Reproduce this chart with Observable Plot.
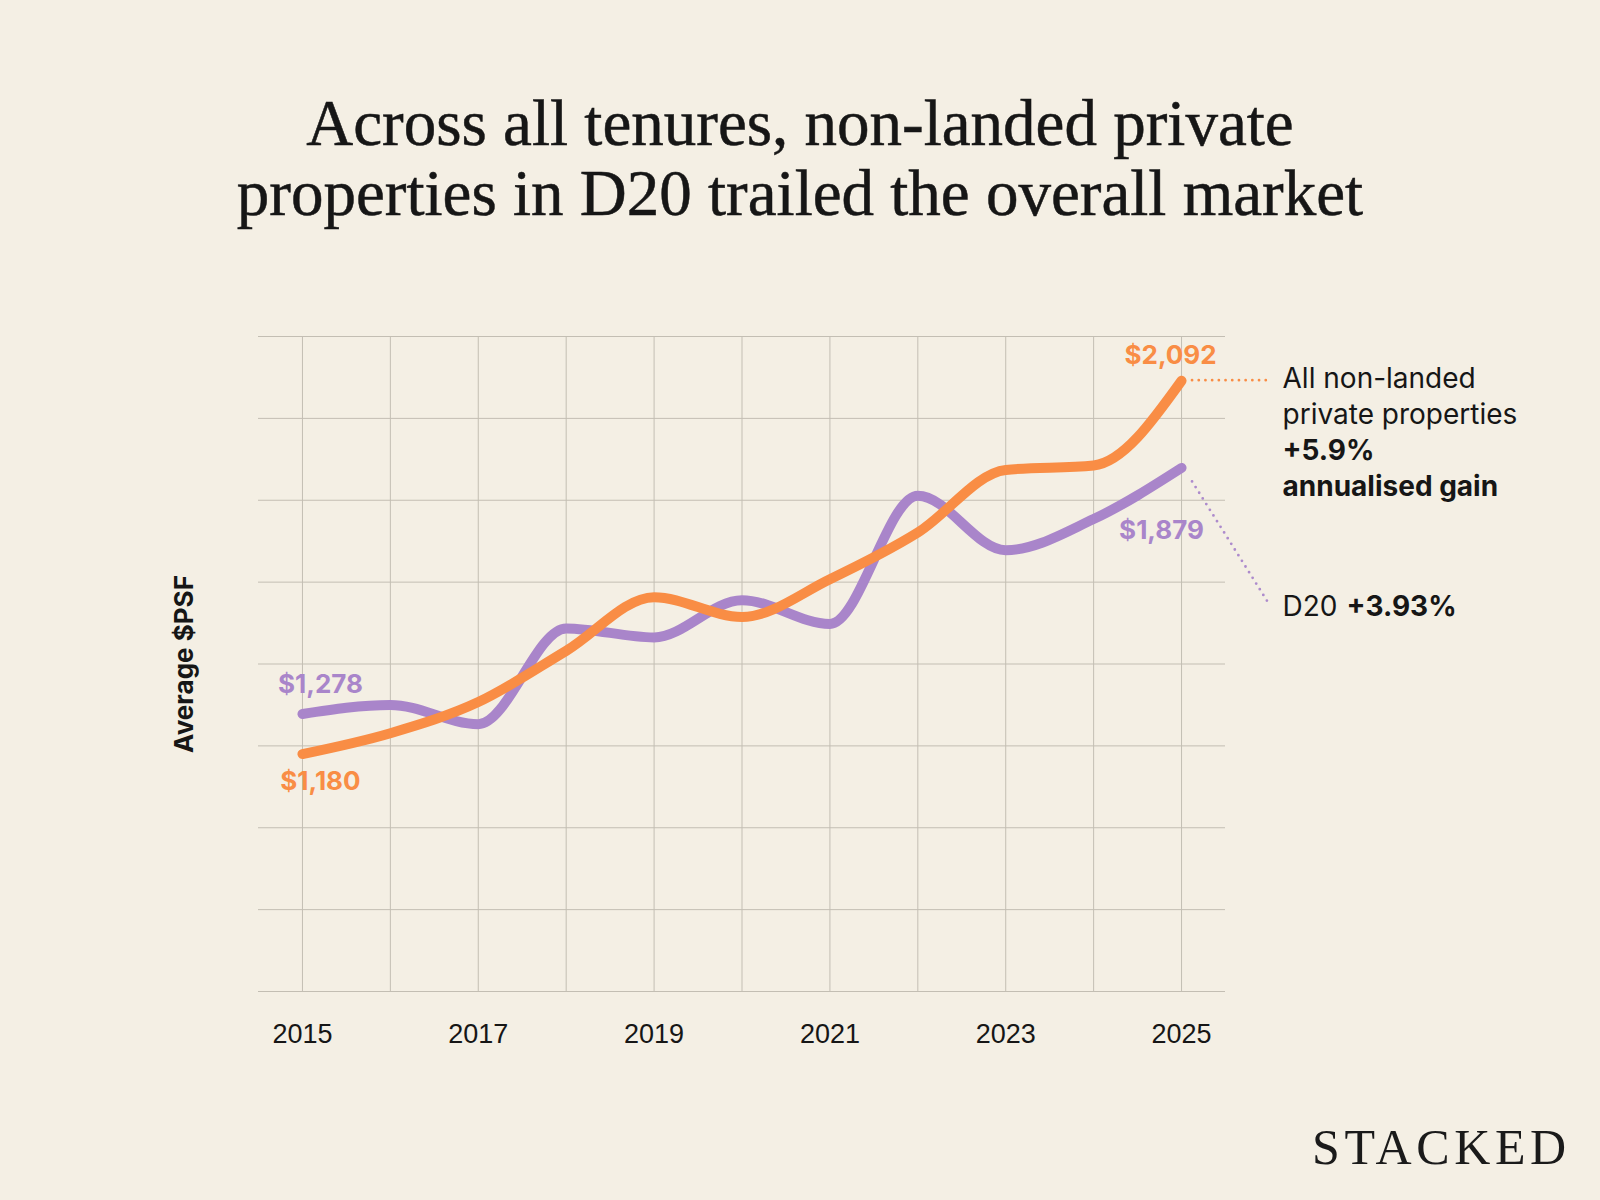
<!DOCTYPE html>
<html>
<head>
<meta charset="utf-8">
<title>D20 vs overall non-landed private property prices</title>
<script src="https://cdn.jsdelivr.net/npm/d3@7"></script>
<script src="https://cdn.jsdelivr.net/npm/@observablehq/plot@0.6"></script>
<style>
  html, body { margin: 0; padding: 0; background: #F4EFE4; }
  #page { position: relative; width: 1600px; height: 1200px; background: #F4EFE4; overflow: hidden; }
  #title {
    position: absolute; left: 0; top: 88px; width: 1600px; text-align: center;
    font-family: "Liberation Serif", "DejaVu Serif", serif; font-size: 65px; line-height: 70px;
    color: #161616; font-weight: 400; -webkit-text-stroke: 0.5px #161616;
  }
  #chart { position: absolute; left: 0; top: 300px; }
  #brand {
    position: absolute; left: 1312px; top: 1122px;
    font-family: "Liberation Serif", serif; font-size: 50px; line-height: 50px;
    letter-spacing: 4.6px; color: #1a1a1a;
  }
</style>
</head>
<body>
<div id="page">
  <div id="title">Across all tenures, non-landed private<br>properties in D20 trailed the overall market</div>
  <div id="chart"></div>
  <div id="brand">STACKED</div>
</div>
<script>
// Average $PSF by year
const years = [2015, 2016, 2017, 2018, 2019, 2020, 2021, 2022, 2023, 2024, 2025];
const allNonLanded = [1180, 1231, 1307, 1432, 1563, 1515, 1607, 1721, 1874, 1885, 2092];
const d20 = [1278, 1300, 1253, 1487, 1465, 1556, 1498, 1811, 1678, 1754, 1879];

// Axis ticks
const xTickLabels = [2015, 2017, 2019, 2021, 2023, 2025];
const yGrid = [600, 800, 1000, 1200, 1400, 1600, 1800, 2000, 2200];

// Annotation text
const yLabel = "Average $PSF";
const allName = "All non-landed\nprivate properties";
const allGain = "+5.9%\nannualised gain";
const d20Name = "D20";
const d20Gain = "+3.93%";

const ORANGE = "#F98D45";
const PURPLE = "#A985CA";
const GRID = "#C3BEB3";
const INK = "#161616";

const allRows = years.map((year, i) => ({year, value: allNonLanded[i]}));
const d20Rows = years.map((year, i) => ({year, value: d20[i]}));
const allStart = allRows[0], allEnd = allRows[allRows.length - 1];
const d20Start = d20Rows[0], d20End = d20Rows[d20Rows.length - 1];
const money = d3.format("$,");

const lineStyle = {x: "year", y: "value", strokeWidth: 10, curve: "monotone-x",
  strokeLinecap: "round", strokeLinejoin: "round"};
const valueStyle = {x: "year", y: "value", text: d => money(d.value),
  fontSize: 26, fontWeight: 700, lineAnchor: "bottom", textAnchor: "middle"};
const noteStyle = {x: "year", y: "value", textAnchor: "start", fontSize: 28, fill: INK,
  letterSpacing: "0.3px"};

const chart = Plot.plot({
  width: 1600,
  height: 771,
  marginTop: 36,
  marginBottom: 80,
  marginLeft: 258,
  marginRight: 375,
  style: {background: "transparent", overflow: "visible", fontFamily: "Inter, sans-serif", color: INK},
  x: {type: "linear", domain: [2014.5, 2025.5]},
  y: {domain: [600, 2200], axis: null},
  marks: [
    Plot.gridY(yGrid, {stroke: GRID, strokeOpacity: 1, strokeWidth: 1}),
    Plot.gridX(years, {stroke: GRID, strokeOpacity: 1, strokeWidth: 1}),
    Plot.axisX(xTickLabels, {tickSize: 0, tickPadding: 32, tickFormat: "d", label: null,
      fontSize: 27, fontFamily: "Liberation Sans, Arial, sans-serif", fill: INK}),
    Plot.text([yLabel], {text: d => d, frameAnchor: "left", rotate: -90, dx: -74,
      textAnchor: "middle", lineAnchor: "middle", fontSize: 26, fontWeight: 700, fill: INK}),

    // series lines
    Plot.line(d20Rows, {...lineStyle, stroke: PURPLE}),
    Plot.line(allRows, {...lineStyle, stroke: ORANGE}),

    // start / end values
    Plot.text([d20Start], {...valueStyle, fill: PURPLE, dx: 18, dy: -21}),
    Plot.text([allStart], {...valueStyle, fill: ORANGE, dx: 18, dy: 36}),
    Plot.text([allEnd], {...valueStyle, fill: ORANGE, dx: -11, dy: -17}),
    Plot.text([d20End], {...valueStyle, fill: PURPLE, dx: -20, dy: 71}),

    // series notes on the right
    Plot.text([allEnd], {...noteStyle, text: () => allName, lineAnchor: "top", lineHeight: 1.28, dx: 101, dy: -18}),
    Plot.text([allEnd], {...noteStyle, text: () => allGain, lineAnchor: "top", lineHeight: 1.28, fontWeight: 700, dx: 101, dy: 54}),
    Plot.text([d20End], {...noteStyle, text: () => d20Name, lineAnchor: "bottom", dx: 101, dy: 148}),
    Plot.text([d20End], {...noteStyle, text: () => d20Gain, lineAnchor: "bottom", fontWeight: 700, dx: 165, dy: 148})
  ]
});

// Dotted leaders from each series end point to its note
const sx = chart.scale("x"), sy = chart.scale("y");
const leaders = [
  {end: allEnd, color: ORANGE, opacity: 1, from: [11, 0], to: [86, 0]},
  {end: d20End, color: PURPLE, opacity: 0.95, from: [11, 14], to: [87, 135]}
];
const g = d3.select(chart).append("g").attr("class", "leaders");
for (const l of leaders) {
  const px = sx.apply(l.end.year), py = sy.apply(l.end.value);
  g.append("line")
    .attr("x1", px + l.from[0]).attr("y1", py + l.from[1])
    .attr("x2", px + l.to[0]).attr("y2", py + l.to[1])
    .attr("stroke", l.color).attr("stroke-opacity", l.opacity)
    .attr("stroke-width", 2.8).attr("stroke-linecap", "round")
    .attr("stroke-dasharray", "0 6.7");
}

document.getElementById("chart").appendChild(chart);
</script>
</body>
</html>
